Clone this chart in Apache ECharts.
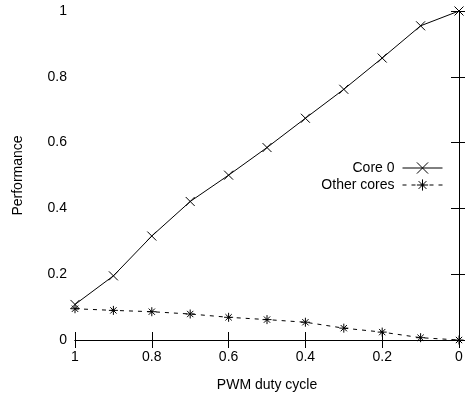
<!DOCTYPE html>
<html>
<head>
<meta charset="utf-8">
<script src="https://cdn.jsdelivr.net/npm/echarts@6/dist/echarts.min.js"></script>
<style>
  html, body { margin: 0; padding: 0; background: #fff; }
  #chart { width: 465px; height: 394px; }
</style>
</head>
<body>
<div id="chart"></div>
<script>
const dutyCycle = [1, 0.9, 0.8, 0.7, 0.6, 0.5, 0.4, 0.3, 0.2, 0.1, 0]
const core0 = [0.108, 0.195, 0.316, 0.421, 0.501, 0.585, 0.674, 0.762, 0.857, 0.955, 1.0]
const otherCores = [0.095, 0.090, 0.086, 0.079, 0.069, 0.062, 0.054, 0.036, 0.024, 0.007, 0.0]

const font = '"Liberation Sans", Arial, sans-serif'
const crossSym = 'path://M0,0L10,10M10,0L0,10'
const starSym = 'path://M0,5L10,5M5,0L5,10M1.5,1.5L8.5,8.5M8.5,1.5L1.5,8.5'

const pairs = (ys) => dutyCycle.map((x, i) => [x, ys[i]])

const axisLine = { show: true, lineStyle: { color: '#000', width: 1 } }
const axisTick = { show: true, inside: true, length: 8, lineStyle: { color: '#000', width: 1 } }
const label = { color: '#000', fontFamily: font, fontSize: 14 }

// one legend per entry so each row can be placed on its own
const legendFor = (name, top) => ({
  data: [name],
  right: 17,
  top,
  align: 'right',
  itemWidth: 40,
  itemHeight: 14,
  itemGap: 0,
  lineStyle: { width: 1 },
  itemStyle: { borderWidth: 1 },
  textStyle: { color: '#000', fontFamily: font, fontSize: 14, padding: [0, 3, 0, 0] },
})

const myChart = echarts.init(document.getElementById('chart'))
const option = {
  animation: false,
  backgroundColor: '#fff',
  grid: { left: 75, right: 6, top: 11, bottom: 54, containLabel: false, outerBoundsMode: 'none' },
  legend: [legendFor('Core 0', 156), legendFor('Other cores', 173)],
  xAxis: [
    {
      type: 'value', min: 0, max: 1, interval: 0.2, inverse: true,
      name: 'PWM duty cycle', nameLocation: 'middle', nameGap: 38,
      nameTextStyle: label,
      axisLine, axisTick,
      axisLabel: { ...label, margin: 10 },
      splitLine: { show: false },
    },
    {
      type: 'value', min: 0, max: 1, interval: 0.2, inverse: true, position: 'top',
      axisLine, axisTick, axisLabel: { show: false }, splitLine: { show: false },
    },
  ],
  yAxis: [
    {
      type: 'value', min: 0, max: 1, interval: 0.2,
      name: 'Performance', nameLocation: 'middle', nameGap: 50,
      nameTextStyle: label,
      axisLine, axisTick,
      axisLabel: { ...label, margin: 8 },
      splitLine: { show: false },
    },
    {
      type: 'value', min: 0, max: 1, interval: 0.2, position: 'right',
      axisLine, axisTick, axisLabel: { show: false }, splitLine: { show: false },
    },
  ],
  series: [
    {
      name: 'Core 0',
      type: 'line',
      data: pairs(core0),
      symbol: crossSym,
      symbolSize: 9,
      lineStyle: { color: '#000', width: 1 },
      itemStyle: { color: '#000', borderColor: '#000', borderWidth: 1 },
      emphasis: { disabled: true },
    },
    {
      name: 'Other cores',
      type: 'line',
      data: pairs(otherCores),
      symbol: starSym,
      symbolSize: 9,
      lineStyle: { color: '#000', width: 1, type: [4, 5] },
      itemStyle: { color: '#000', borderColor: '#000', borderWidth: 1 },
      emphasis: { disabled: true },
    },
  ],
}
myChart.setOption(option)
</script>
</body>
</html>
